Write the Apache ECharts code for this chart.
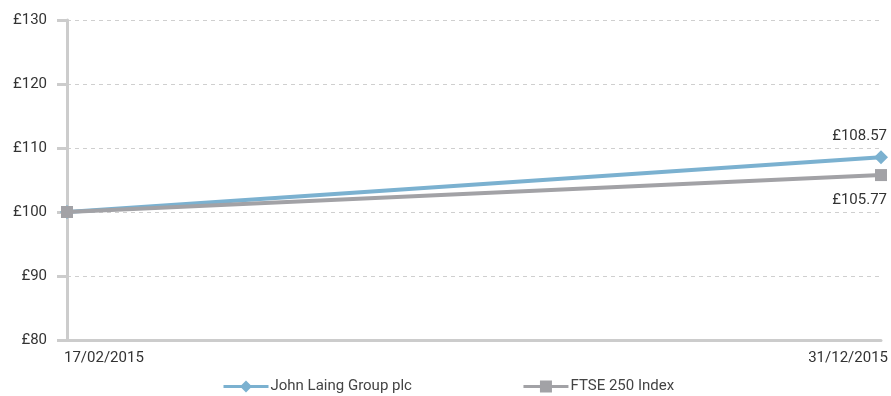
<!DOCTYPE html>
<html>
<head>
<meta charset="utf-8">
<script src="https://cdn.jsdelivr.net/npm/echarts@6/dist/echarts.min.js"></script>
<style>
  html, body { margin: 0; padding: 0; background: #fff; }
  #chart { width: 891px; height: 396px; }
</style>
</head>
<body>
<div id="chart"></div>
<script>
// data
const dates = ['17/02/2015', '31/12/2015'];
const laingValues = [100, 108.57];
const ftseValues = [100, 105.77];
const seriesNames = ['John Laing Group plc', 'FTSE 250 Index'];

const FONT = 'Roboto';
const BLUE = '#7bb1d0';
const GREY = '#a2a2a6';

let chart = echarts.init(document.getElementById('chart'));

function lastLabel(offsetX, offsetY) {
    return {
        show: true,
        position: 'left',
        align: 'right',
        verticalAlign: 'middle',
        offset: [offsetX, offsetY],
        fontFamily: FONT,
        fontSize: 15,
        color: '#333',
        formatter: p => p.dataIndex === dates.length - 1 ? '£' + p.value.toFixed(2) : ''
    };
}

let option = {
    animation: false,
    textStyle: { fontFamily: FONT },
    grid: { left: 67, right: 9, top: 20, bottom: 56 },
    legend: {
        bottom: -3,
        left: 217,
        itemWidth: 45,
        itemHeight: 15,
        itemGap: 110,
        lineStyle: { width: 3 },
        textStyle: { fontFamily: FONT, fontSize: 15, color: '#444', padding: [0, 0, 0, -3] },
        data: seriesNames
    },
    xAxis: {
        type: 'category',
        data: dates,
        boundaryGap: false,
        axisLine: { lineStyle: { color: '#cccccc', width: 3 } },
        axisTick: { show: false },
        axisLabel: {
            fontFamily: FONT, fontSize: 15, color: '#333', margin: 11,
            padding: [0, -7, 0, -3],
            alignMinLabel: 'left', alignMaxLabel: 'right'
        }
    },
    yAxis: {
        type: 'value',
        min: 80, max: 130, interval: 10,
        axisLine: { show: true, lineStyle: { color: '#cccccc', width: 3 } },
        axisTick: { show: true, length: 10, lineStyle: { color: '#cccccc', width: 3 } },
        axisLabel: { fontFamily: FONT, fontSize: 15, color: '#333', margin: 20, formatter: v => '£' + v },
        splitLine: { lineStyle: { color: '#cfcfcf', type: [4, 4], width: 1 } }
    },
    series: [
        {
            name: seriesNames[0],
            type: 'line',
            data: laingValues,
            symbol: 'diamond',
            symbolSize: 14,
            lineStyle: { color: BLUE, width: 4 },
            itemStyle: { color: BLUE },
            label: lastLabel(18, -21),
            z: 3
        },
        {
            name: seriesNames[1],
            type: 'line',
            data: ftseValues,
            symbol: 'rect',
            symbolSize: 12,
            lineStyle: { color: GREY, width: 4 },
            itemStyle: { color: GREY },
            label: lastLabel(17, 25),
            z: 4
        }
    ]
};
chart.setOption(option);
</script>
</body>
</html>
